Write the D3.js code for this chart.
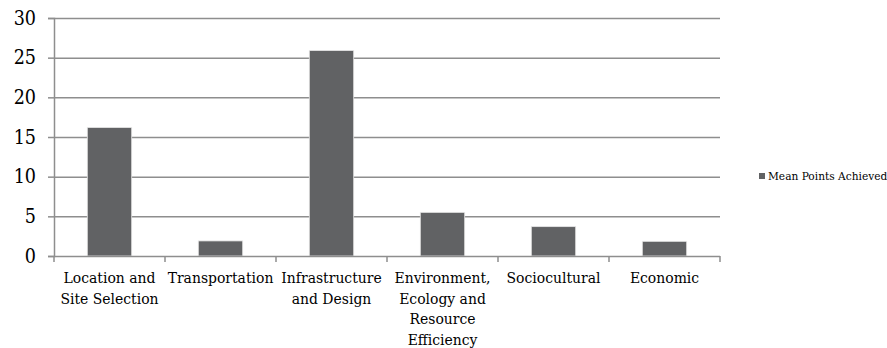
<!DOCTYPE html>
<html>
<head>
<meta charset="utf-8">
<script src="https://cdn.jsdelivr.net/npm/d3@7"></script>
<style>
  html, body { margin: 0; padding: 0; background: #fff; }
  svg { display: block; }
  text { font-family: "DejaVu Serif Condensed", "DejaVu Serif", serif; fill: #000; }
</style>
</head>
<body>
<svg id="chart" width="887" height="348"></svg>
<script>
// Mean points achieved per assessment category
const categories = [
  "Location and Site Selection",
  "Transportation",
  "Infrastructure and Design",
  "Environment, Ecology and Resource Efficiency",
  "Sociocultural",
  "Economic"
];
const labelLines = [
  ["Location and", "Site Selection"],
  ["Transportation"],
  ["Infrastructure", "and Design"],
  ["Environment,", "Ecology and", "Resource", "Efficiency"],
  ["Sociocultural"],
  ["Economic"]
];
const meanPoints = [16.2, 1.9, 25.9, 5.5, 3.7, 1.85];
const yTicks = [0, 5, 10, 15, 20, 25, 30];
const seriesName = "Mean Points Achieved";

const svg = d3.select("#chart");
const plotLeft = 54, plotRight = 720, plotTop = 18, plotBottom = 256;

const x = d3.scaleBand().domain(categories).range([plotLeft, plotRight]).paddingInner(0.6).paddingOuter(0.3);
const band = d3.scaleBand().domain(categories).range([plotLeft, plotRight]);
const y = d3.scaleLinear().domain([0, 30]).range([plotBottom, plotTop]);

const gridColor = "#8e8e8e";

// horizontal gridlines
svg.append("g").selectAll("line").data(yTicks.filter(d => d > 0)).join("line")
  .attr("x1", plotLeft).attr("x2", plotRight)
  .attr("y1", d => y(d) + 0.5).attr("y2", d => y(d) + 0.5)
  .attr("stroke", gridColor).attr("stroke-width", 1.5);

// bars
svg.append("g").selectAll("rect").data(meanPoints).join("rect")
  .attr("x", (d, i) => x(categories[i]))
  .attr("width", x.bandwidth())
  .attr("y", d => y(d))
  .attr("height", d => plotBottom - y(d))
  .attr("fill", "#616264")
  .attr("stroke", "#e6e6e6").attr("stroke-width", 0.8);

// y axis
const yAxis = d3.axisLeft(y).tickValues(yTicks).tickSize(6).tickPadding(12).tickFormat(d3.format("d"));
const gy = svg.append("g").attr("transform", `translate(${plotLeft},0)`).call(yAxis);
gy.select(".domain").attr("stroke", gridColor).attr("stroke-width", 1.5);
gy.selectAll(".tick line").attr("stroke", gridColor).attr("stroke-width", 1.5);
gy.selectAll(".tick text").attr("font-size", 19.5).attr("fill", "#000")
  .attr("font-family", "'DejaVu Serif Condensed', 'DejaVu Serif', serif");

// x axis line and category dividers
svg.append("line").attr("x1", plotLeft).attr("x2", plotRight)
  .attr("y1", plotBottom + 0.5).attr("y2", plotBottom + 0.5)
  .attr("stroke", gridColor).attr("stroke-width", 1.5);
const edges = categories.map(c => band(c)).concat([plotRight]);
svg.append("g").selectAll("line").data(edges).join("line")
  .attr("x1", d => d).attr("x2", d => d)
  .attr("y1", plotBottom).attr("y2", plotBottom + 6)
  .attr("stroke", gridColor).attr("stroke-width", 1.5);

// category labels
const lab = svg.append("g").selectAll("text").data(categories).join("text")
  .attr("text-anchor", "middle")
  .attr("font-size", 15.5)
  .attr("transform", c => `translate(${band(c) + band.bandwidth() / 2},${plotBottom + 27})`);
lab.each(function (c, i) {
  d3.select(this).selectAll("tspan").data(labelLines[i]).join("tspan")
    .attr("x", 0).attr("y", (d, j) => j * 20.5).text(d => d);
});

// legend
const lg = svg.append("g").attr("transform", "translate(759,173)");
lg.append("rect").attr("width", 6).attr("height", 6).attr("fill", "#616264");
lg.append("text").attr("x", 9).attr("y", 7).attr("font-size", 11.8).text(seriesName);
</script>
</body>
</html>
